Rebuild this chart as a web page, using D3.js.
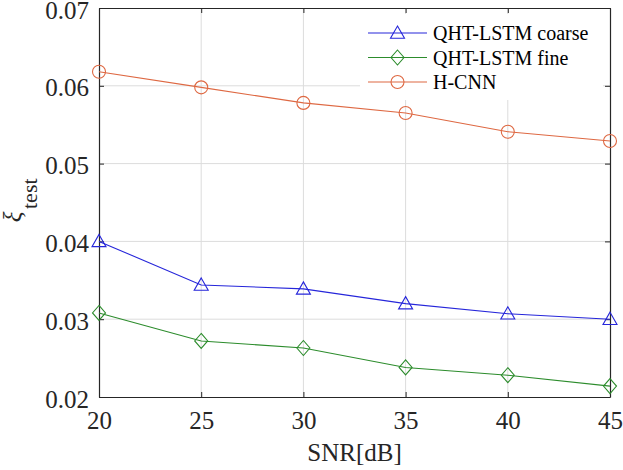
<!DOCTYPE html>
<html><head><meta charset="utf-8">
<script src="https://cdn.jsdelivr.net/npm/d3@7"></script>
<style>body{margin:0;background:#fff}svg{display:block}text{font-family:"Liberation Serif","Times New Roman",serif}</style>
</head><body>
<script>
const snr = [20, 25, 30, 35, 40, 45];
const coarse = [0.0400, 0.0344, 0.0339, 0.0320, 0.0307, 0.0300];
const fine = [0.0308, 0.0272, 0.0263, 0.0238, 0.0228, 0.0214];
const hcnn = [0.0618, 0.0598, 0.0578, 0.0565, 0.0541, 0.0529];
const xTicks = [20, 25, 30, 35, 40, 45];
const yTicks = [0.02, 0.03, 0.04, 0.05, 0.06, 0.07];
const seriesNames = ["QHT-LSTM coarse", "QHT-LSTM fine", "H-CNN"];
const seriesColors = ["#2626da", "#2c8c2c", "#de6842"];
const seriesMarkers = ["triangle", "diamond", "circle"];

const W = 623, H = 470;
const m = {l: 99, r: 13, t: 8, b: 73};
const svg = d3.select("body").append("svg").attr("width", W).attr("height", H);
const x = d3.scaleLinear().domain([20, 45]).range([m.l, W - m.r]);
const y = d3.scaleLinear().domain([0.02, 0.07]).range([H - m.b, m.t]);
const axisCol = "#262626";

// grid
svg.append("g").selectAll("line").data(xTicks.slice(1, -1)).join("line")
  .attr("x1", d => x(d)).attr("x2", d => x(d)).attr("y1", y(0.07)).attr("y2", y(0.02))
  .attr("stroke", "#dcdcdc").attr("stroke-width", 1);
svg.append("g").selectAll("line").data(yTicks.slice(1, -1)).join("line")
  .attr("y1", d => y(d)).attr("y2", d => y(d)).attr("x1", x(20)).attr("x2", x(45))
  .attr("stroke", "#dcdcdc").attr("stroke-width", 1);

// axes
const fmt = d3.format(".2f");
const gx = svg.append("g").attr("transform", `translate(0,${y(0.02)})`)
  .call(d3.axisBottom(x).tickValues(xTicks).tickSizeInner(-5).tickSizeOuter(0).tickPadding(14));
const gy = svg.append("g").attr("transform", `translate(${x(20)},0)`)
  .call(d3.axisLeft(y).tickValues(yTicks).tickFormat(fmt).tickSizeInner(-5).tickSizeOuter(0).tickPadding(10));
const gx2 = svg.append("g").attr("transform", `translate(0,${y(0.07)})`)
  .call(d3.axisTop(x).tickValues(xTicks).tickSizeInner(-5).tickSizeOuter(0).tickFormat(""));
const gy2 = svg.append("g").attr("transform", `translate(${x(45)},0)`)
  .call(d3.axisRight(y).tickValues(yTicks).tickSizeInner(-5).tickSizeOuter(0).tickFormat(""));
[gx, gy, gx2, gy2].forEach(g => {
  g.attr("font-family", null).attr("font-size", null);
  g.select(".domain").attr("stroke", axisCol).attr("stroke-width", 1.2);
  g.selectAll(".tick line").attr("stroke", axisCol).attr("stroke-width", 1);
  g.selectAll(".tick text").attr("fill", "#262626").style("font-size", "25px");
});
gy.selectAll(".tick text").attr("dy", "0.4em");

// markers
function marker(g, type, cx, cy, color) {
  if (type === "circle") {
    g.append("circle").attr("cx", cx).attr("cy", cy).attr("r", 6.5)
      .attr("fill", "none").attr("stroke", color).attr("stroke-width", 1.1);
  } else if (type === "triangle") {
    const s = 7;
    g.append("path").attr("d", `M${cx},${cy - s}L${cx + s},${cy + s * 0.75}L${cx - s},${cy + s * 0.75}Z`)
      .attr("fill", "none").attr("stroke", color).attr("stroke-width", 1.1);
  } else {
    const w = 6.5, h = 7.5;
    g.append("path").attr("d", `M${cx},${cy - h}L${cx + w},${cy}L${cx},${cy + h}L${cx - w},${cy}Z`)
      .attr("fill", "none").attr("stroke", color).attr("stroke-width", 1.1);
  }
}

const allSeries = [coarse, fine, hcnn];
const line = d3.line().x((d, i) => x(snr[i])).y(d => y(d));
allSeries.forEach((vals, k) => {
  const g = svg.append("g");
  g.append("path").datum(vals).attr("d", line).attr("fill", "none")
    .attr("stroke", seriesColors[k]).attr("stroke-width", 1.1);
  vals.forEach((v, i) => marker(g, seriesMarkers[k], x(snr[i]), y(v), seriesColors[k]));
});

// legend
const lg = svg.append("g");
lg.append("rect").attr("x", 360).attr("y", 14).attr("width", 243).attr("height", 86).attr("fill", "#fff");
seriesNames.forEach((n, k) => {
  const ly = 33 + k * 24.5;
  lg.append("line").attr("x1", 368).attr("x2", 427).attr("y1", ly).attr("y2", ly)
    .attr("stroke", seriesColors[k]).attr("stroke-width", 1.1);
  marker(lg, seriesMarkers[k], 397.5, ly, seriesColors[k]);
  lg.append("text").attr("x", 433).attr("y", ly + 7).text(n)
    .style("font-size", "20px").attr("fill", "#000");
});

// axis labels
svg.append("text").attr("x", x(32.5)).attr("y", 461).attr("text-anchor", "middle")
  .style("font-size", "25px").attr("fill", "#262626").text("SNR[dB]");
svg.append("text").attr("transform", `translate(21,217) rotate(-90)`)
  .attr("text-anchor", "middle").attr("fill", "#262626")
  .style("font-size", "25px").style("font-style", "italic").text("ξ");
svg.append("text").attr("transform", `translate(37,209) rotate(-90)`)
  .attr("text-anchor", "start").attr("fill", "#262626")
  .style("font-size", "22px").text("test");
</script>
</body></html>
